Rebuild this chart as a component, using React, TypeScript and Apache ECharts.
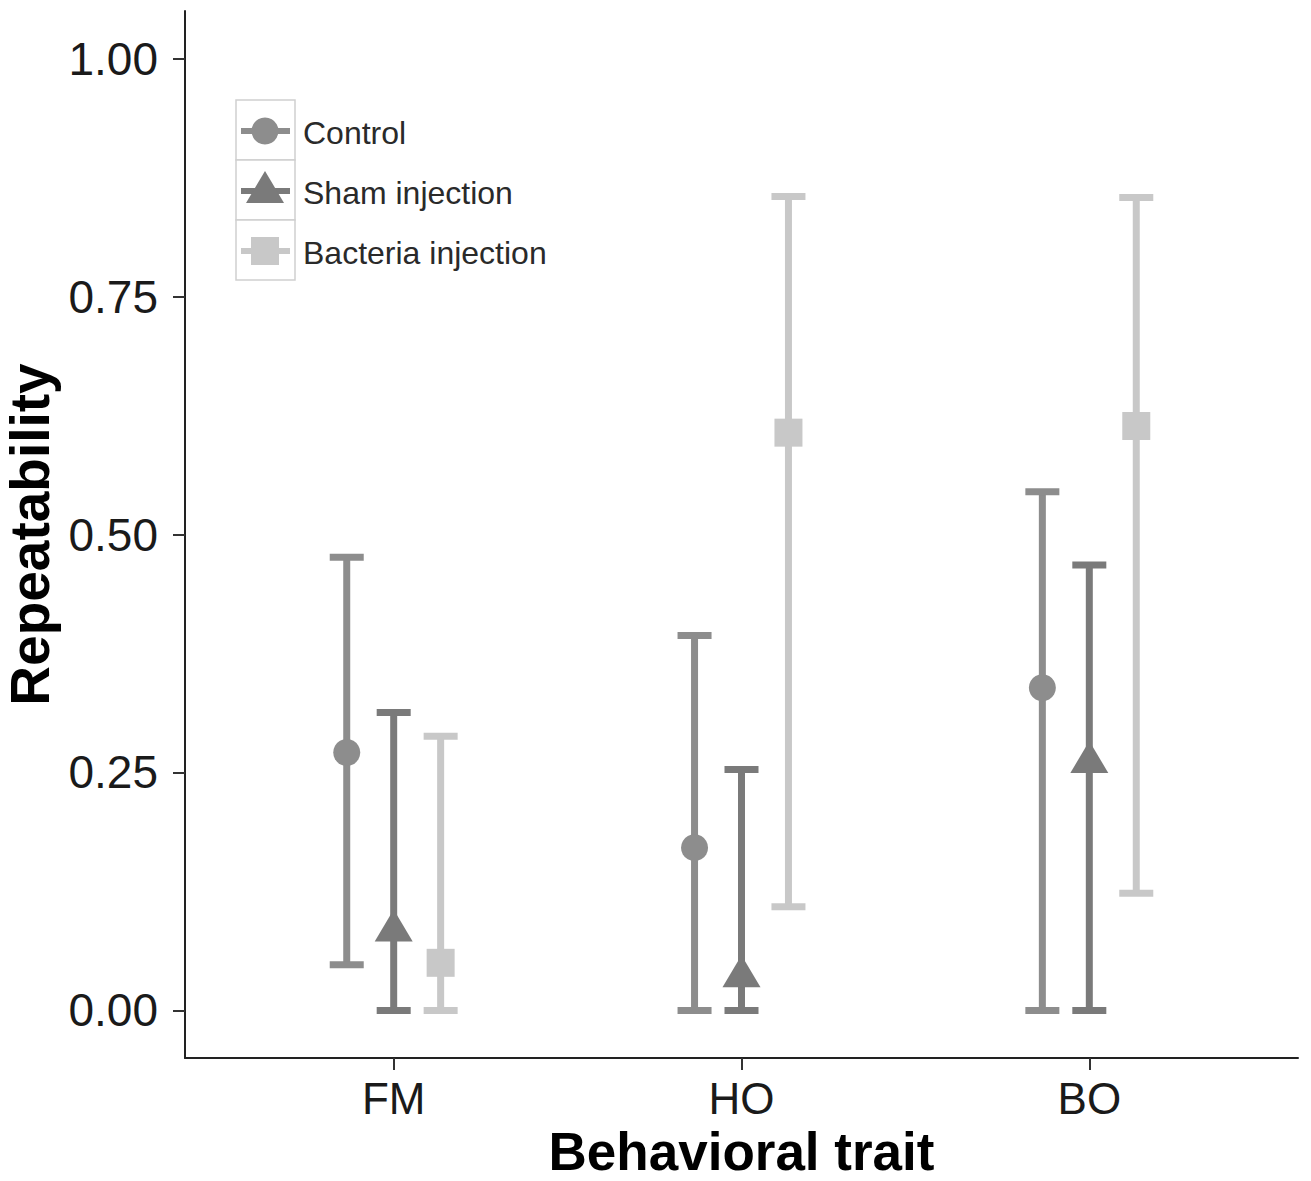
import React, { useEffect, useRef } from "react";
import * as echarts from "echarts";

const categories = ["FM", "HO", "BO"];
const groups = ["Control", "Sham injection", "Bacteria injection"];
const controlMean = [0.271, 0.171, 0.339];
const controlLow = [0.048, 0.0, 0.0];
const controlHigh = [0.476, 0.394, 0.545];
const shamMean = [0.085, 0.037, 0.262];
const shamLow = [0.0, 0.0, 0.0];
const shamHigh = [0.313, 0.253, 0.468];
const bacteriaMean = [0.05, 0.607, 0.614];
const bacteriaLow = [0.0, 0.109, 0.123];
const bacteriaHigh = [0.288, 0.855, 0.854];
const yTicks = [0, 0.25, 0.5, 0.75, 1.0];
const dodge = [-0.135, 0, 0.135];

const colors = ["#8d8d8d", "#7a7a7a", "#c8c8c8"];
const shapes = ["circle", "triangle", "square"];
const FONT = "'Liberation Sans', Arial, sans-serif";

function buildData(mean: number[], low: number[], high: number[], g: number) {
  return categories.map((_, i) => [i + 1 + dodge[g], mean[i], low[i], high[i]]);
}

function markerEl(shape: string, cx: number, cy: number, color: string) {
  if (shape === "circle") {
    return { type: "circle", shape: { cx, cy, r: 13.5 }, style: { fill: color } };
  }
  if (shape === "triangle") {
    return {
      type: "polygon",
      shape: { points: [[cx, cy - 20], [cx - 19, cy + 12], [cx + 19, cy + 12]] },
      style: { fill: color },
    };
  }
  return { type: "rect", shape: { x: cx - 14, y: cy - 14, width: 28, height: 28 }, style: { fill: color } };
}

export default function App() {
  const ref = useRef<HTMLDivElement>(null);
  useEffect(() => {
    if (!ref.current) return;
    const chart = echarts.init(ref.current, undefined, { renderer: "svg" });
    const datasets = [
      buildData(controlMean, controlLow, controlHigh, 0),
      buildData(shamMean, shamLow, shamHigh, 1),
      buildData(bacteriaMean, bacteriaLow, bacteriaHigh, 2),
    ];
    const series = datasets.map((data, g) => ({
      type: "custom",
      name: groups[g],
      data,
      renderItem: (params: any, api: any) => {
        const x = api.value(0);
        const top = api.coord([x, api.value(3)]);
        const bot = api.coord([x, api.value(2)]);
        const mid = api.coord([x, api.value(1)]);
        const lineStyle = { stroke: colors[g], lineWidth: 7 };
        return {
          type: "group",
          children: [
            { type: "line", shape: { x1: top[0], y1: top[1], x2: bot[0], y2: bot[1] }, style: lineStyle },
            { type: "line", shape: { x1: top[0] - 17, y1: top[1], x2: top[0] + 17, y2: top[1] }, style: lineStyle },
            { type: "line", shape: { x1: bot[0] - 17, y1: bot[1], x2: bot[0] + 17, y2: bot[1] }, style: lineStyle },
            markerEl(shapes[g], mid[0], mid[1], colors[g]),
          ],
        };
      },
    }));

    const legendEls: any[] = [];
    groups.forEach((name, g) => {
      const y0 = 100 + g * 60;
      legendEls.push({
        type: "rect",
        shape: { x: 236, y: y0, width: 59, height: 60 },
        style: { fill: "#fff", stroke: "#d0d0d0", lineWidth: 1.5 },
      });
      legendEls.push({
        type: "line",
        shape: { x1: 241, y1: y0 + 31, x2: 290, y2: y0 + 31 },
        style: { stroke: colors[g], lineWidth: 6 },
      });
      legendEls.push(markerEl(shapes[g], 265, y0 + 31, colors[g]));
      legendEls.push({
        type: "text",
        x: 303,
        y: y0 + 33,
        style: { text: name, fill: "#2a2a2a", font: `32px ${FONT}`, textVerticalAlign: "middle" },
      });
    });

    chart.setOption({
      animation: false,
      backgroundColor: "#fff",
      grid: {
        left: 185,
        right: 13,
        top: 11,
        bottom: 123,
        containLabel: false,
        outerBoundsMode: "none",
      },
      xAxis: {
        type: "value",
        min: 0.4,
        max: 3.6,
        name: "Behavioral trait",
        nameLocation: "middle",
        nameGap: 66,
        nameTextStyle: { fontSize: 53, fontWeight: "bold", color: "#000", fontFamily: FONT },
        axisLine: { show: true, onZero: false, lineStyle: { color: "#222", width: 2 } },
        axisTick: { show: true, customValues: [1, 2, 3], length: 12, lineStyle: { color: "#333", width: 2 } },
        axisLabel: {
          customValues: [1, 2, 3],
          formatter: (v: number) => categories[Math.round(v) - 1],
          fontSize: 44,
          color: "#1a1a1a",
          margin: 18,
          fontFamily: FONT,
        },
        splitLine: { show: false },
      },
      yAxis: {
        type: "value",
        min: -0.05,
        max: 1.05,
        name: "Repeatability",
        nameLocation: "middle",
        nameGap: 110,
        nameTextStyle: { fontSize: 55, fontWeight: "bold", color: "#000", fontFamily: FONT },
        axisLine: { show: true, onZero: false, lineStyle: { color: "#222", width: 2 } },
        axisTick: { show: true, customValues: yTicks, length: 12, lineStyle: { color: "#333", width: 2 } },
        axisLabel: {
          customValues: yTicks,
          formatter: (v: number) => v.toFixed(2),
          fontSize: 46,
          color: "#1a1a1a",
          margin: 27,
          fontFamily: FONT,
        },
        splitLine: { show: false },
      },
      series,
      graphic: legendEls,
    });
    return () => chart.dispose();
  }, []);
  return (
    <div
      ref={ref}
      style={{ position: "absolute", left: 0, top: 0, width: 1311, height: 1181 }}
    />
  );
}
